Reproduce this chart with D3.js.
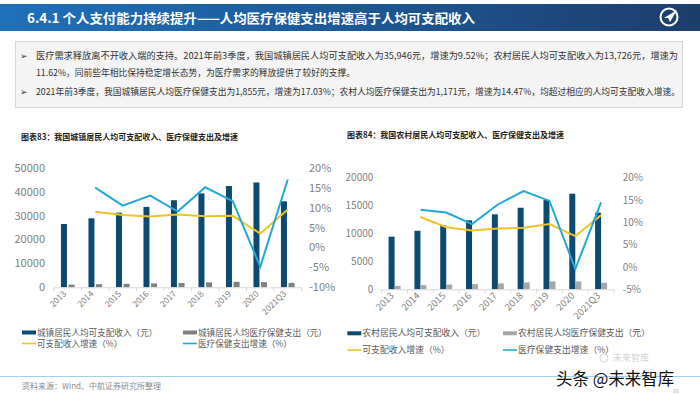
<!DOCTYPE html>
<html><head><meta charset="utf-8">
<script src="https://cdn.jsdelivr.net/npm/d3@7"></script>
<style>
html,body{margin:0;padding:0;background:#fff;}
svg{display:block;font-family:"Noto Sans CJK SC","Noto Sans",sans-serif;}
</style></head>
<body><svg id="c" width="700" height="394"></svg>
<script>
const categories = ["2013","2014","2015","2016","2017","2018","2019","2020","2021Q3"];
const urbanIncome = [26467,28844,31195,33616,36396,39251,42359,43834,35946];
const urbanMedical = [1136,1306,1443,1631,1777,2046,2283,2172,1855];
const urbanIncomeGrowth = [null,8.98,8.15,7.76,8.27,7.84,7.92,3.48,9.52];
const urbanMedicalGrowth = [null,15.0,10.5,13.0,9.0,15.1,11.6,-4.85,17.03];
const urbanLeftTicks = [0,10000,20000,30000,40000,50000];
const urbanRightTicks = [-10,-5,0,5,10,15,20];

const ruralIncome = [9430,10489,11422,12363,13432,14617,16021,17131,13726];
const ruralMedical = [614,754,846,929,1059,1240,1421,1418,1171];
const ruralIncomeGrowth = [null,11.2,8.9,8.2,8.6,8.8,9.6,6.9,11.62];
const ruralMedicalGrowth = [null,12.8,12.2,9.6,14.0,17.0,14.8,-0.45,14.47];
const ruralLeftTicks = [0,5000,10000,15000,20000];
const ruralRightTicks = [-5,0,5,10,15,20];

const urbanLegend = ["城镇居民人均可支配收入（元）","城镇居民人均医疗保健支出（元）","可支配收入增速（%）","医疗保健支出增速（%）"];
const ruralLegend = ["农村居民人均可支配收入（元）","农村居民人均医疗保健支出（元）","可支配收入增速（%）","医疗保健支出增速（%）"];

const svg = d3.select("#c");

// header
const defs = svg.append("defs");
const g1 = defs.append("linearGradient").attr("id","hg").attr("x1","0").attr("x2","1");
g1.append("stop").attr("offset","0%").attr("stop-color","#1f70ba");
g1.append("stop").attr("offset","45%").attr("stop-color","#1d5b9a");
g1.append("stop").attr("offset","100%").attr("stop-color","#1d3d6b");
svg.append("rect").attr("x",0).attr("y",4).attr("width",700).attr("height",27).attr("fill","url(#hg)");
svg.append("text").attr("x",27).attr("y",22.5).attr("fill","#fff").attr("font-size",13).attr("font-weight","bold")
  .attr("textLength",448).attr("lengthAdjust","spacingAndGlyphs")
  .text("6.4.1 个人支付能力持续提升——人均医疗保健支出增速高于人均可支配收入");
// logo
const lg = svg.append("g").attr("transform","translate(669,17)");
lg.append("circle").attr("r",8.5).attr("fill","none").attr("stroke","#fff").attr("stroke-width",2);
lg.append("path").attr("d","M-5,1 L8,-7 L1,5 L-1,1 Z").attr("fill","#fff");

// text box
svg.append("rect").attr("x",15.5).attr("y",41.5).attr("width",667).attr("height",66).attr("fill","#f4f4f4").attr("stroke","#d9d9d9");
const para = [
  {t:"医疗需求释放离不开收入端的支持。2021年前3季度，我国城镇居民人均可支配收入为35,946元，增速为9.52%；农村居民人均可支配收入为13,726元，增速为", y:59, b:true, w:642},
  {t:"11.62%，同前些年相比保持稳定增长态势，为医疗需求的释放提供了较好的支撑。", y:76, b:false, w:319},
  {t:"2021年前3季度，我国城镇居民人均医疗保健支出为1,855元，增速为17.03%；农村人均医疗保健支出为1,171元，增速为14.47%，均超过相应的人均可支配收入增速。", y:95, b:true, w:644}
];
para.forEach(p=>{
  if(p.b) svg.append("text").attr("x",20).attr("y",p.y).attr("font-size",9).attr("fill","#333").attr("font-family","DejaVu Sans").text("➢");
  svg.append("text").attr("x",36).attr("y",p.y).attr("font-size",9).attr("fill","#333")
    .attr("textLength",p.w).attr("lengthAdjust","spacingAndGlyphs").text(p.t);
});

function drawChart(o){
  const g = svg.append("g");
  g.append("text").attr("x",o.titleX).attr("y",o.titleY).attr("font-size",8.2).attr("font-weight","bold").attr("fill","#222")
    .attr("textLength",217).attr("lengthAdjust","spacingAndGlyphs").text(o.title);
  const x = d3.scaleBand().domain(categories).range([o.x0,o.x1]).padding(0);
  const yL = d3.scaleLinear().domain([o.leftTicks[0],o.leftTicks[o.leftTicks.length-1]]).range([o.yBot,o.yTop]);
  const yR = d3.scaleLinear().domain([o.rightTicks[0],o.rightTicks[o.rightTicks.length-1]]).range([o.yBot,o.yTop]);
  const bw = o.barW, gap = o.gap;
  // left axis
  const la = d3.axisLeft(yL).tickValues(o.leftTicks).tickSize(0).tickPadding(0).tickFormat(d=>String(d));
  const lag = g.append("g").attr("transform",`translate(${o.leftLabelX},0)`).call(la);
  lag.select(".domain").remove();
  lag.selectAll("text").attr("font-size",o.tickFont).attr("fill","#7f7f7f").attr("font-family","Noto Sans CJK SC");
  const ra = d3.axisRight(yR).tickValues(o.rightTicks).tickSize(0).tickPadding(0).tickFormat(d=>d+"%");
  const rag = g.append("g").attr("transform",`translate(${o.rightLabelX},0)`).call(ra);
  rag.select(".domain").remove();
  rag.selectAll("text").attr("font-size",o.tickFont).attr("fill","#7f7f7f").attr("font-family","Noto Sans CJK SC");
  // bars
  g.selectAll(".bi").data(o.income).join("rect")
    .attr("x",(d,i)=>x(categories[i])+x.bandwidth()/2-bw-gap/2).attr("width",bw)
    .attr("y",d=>yL(d)).attr("height",d=>yL(0)-yL(d)).attr("fill","#0d4a70");
  g.selectAll(".bm").data(o.medical).join("rect")
    .attr("x",(d,i)=>x(categories[i])+x.bandwidth()/2+gap/2).attr("width",bw)
    .attr("y",d=>yL(d)).attr("height",d=>yL(0)-yL(d)).attr("fill",o.grayColor);
  // x axis
  const xa = d3.axisBottom(x).tickSize(0).tickPadding(0);
  const xag = g.append("g").attr("transform",`translate(0,${yL(0)})`).call(xa);
  xag.select(".domain").attr("stroke","#d9d9d9");
  xag.selectAll(".tick text").attr("font-size",o.xFont).attr("fill","#7f7f7f").attr("font-family","Noto Sans CJK SC")
    .attr("text-anchor","end").attr("dy",0).attr("y",0)
    .attr("transform",`translate(${o.xLabDx},${o.xLabDy}) rotate(-45)`);
  const bounds = categories.map(c=>x(c)).concat([o.x1]);
  g.selectAll(".tk").data(bounds).join("line")
    .attr("x1",d=>d).attr("x2",d=>d).attr("y1",yL(0)).attr("y2",yL(0)+4).attr("stroke","#d9d9d9");
  // lines
  const line = d3.line().defined(d=>d[1]!=null).x(d=>x(d[0])+x.bandwidth()/2).y(d=>yR(d[1]));
  g.append("path").datum(categories.map((c,i)=>[c,o.incGrowth[i]])).attr("d",line)
    .attr("fill","none").attr("stroke","#eec22a").attr("stroke-width",2);
  g.append("path").datum(categories.map((c,i)=>[c,o.medGrowth[i]])).attr("d",line)
    .attr("fill","none").attr("stroke","#22a7da").attr("stroke-width",2);
  // legend
  const L = o.legend;
  const items = [
    {t:L[0], type:"bar", c:"#0d4a70", x:o.lgX1, y:o.lgY1},
    {t:L[1], type:"bar", c:o.grayColor, x:o.lgX2, y:o.lgY1},
    {t:L[2], type:"line", c:"#eec22a", x:o.lgX1, y:o.lgY2},
    {t:L[3], type:"line", c:"#22a7da", x:o.lgX2, y:o.lgY2}
  ];
  items.forEach(it=>{
    if(it.type==="bar") g.append("rect").attr("x",it.x).attr("y",it.y-2).attr("width",14).attr("height",4).attr("fill",it.c);
    else g.append("line").attr("x1",it.x).attr("x2",it.x+14).attr("y1",it.y).attr("y2",it.y).attr("stroke",it.c).attr("stroke-width",1.6);
    g.append("text").attr("x",it.x+15).attr("y",it.y).attr("dy","0.35em").attr("font-size",o.lgFont).attr("fill","#595959").text(it.t);
  });
}

drawChart({
  title:"图表83：我国城镇居民人均可支配收入、医疗保健支出及增速", titleX:21, titleY:140,
  x0:54, x1:301.5, yTop:167.7, yBot:287.3, leftLabelX:45, rightLabelX:309,
  leftTicks:urbanLeftTicks, rightTicks:urbanRightTicks,
  income:urbanIncome, medical:urbanMedical, incGrowth:urbanIncomeGrowth, medGrowth:urbanMedicalGrowth,
  barW:6, gap:1.6, grayColor:"#808080", tickFont:11, xFont:8.5, xLabDx:-1, xLabDy:7,
  legend:urbanLegend, lgX1:22, lgX2:183, lgY1:332.5, lgY2:343.5, lgFont:8.6
});
drawChart({
  title:"图表84：我国农村居民人均可支配收入、医疗保健支出及增速", titleX:347, titleY:138,
  x0:381.7, x1:614, yTop:177.7, yBot:289.3, leftLabelX:373.3, rightLabelX:622.7,
  leftTicks:ruralLeftTicks, rightTicks:ruralRightTicks,
  income:ruralIncome, medical:ruralMedical, incGrowth:ruralIncomeGrowth, medGrowth:ruralMedicalGrowth,
  barW:6, gap:0, grayColor:"#a6a6a6", tickFont:10, xFont:9.5, xLabDx:0, xLabDy:7,
  legend:ruralLegend, lgX1:347.3, lgX2:503, lgY1:333.3, lgY2:350, lgFont:8.8
});

// footer
svg.append("line").attr("x1",0).attr("x2",700).attr("y1",376.5).attr("y2",376.5).attr("stroke","#a8cde6").attr("stroke-width",1);
svg.append("text").attr("x",22).attr("y",389).attr("font-size",8).attr("fill","#8c8c8c").text("资料来源：Wind、中航证券研究所整理");
svg.append("text").attr("x",673).attr("y",393).attr("font-size",5.5).attr("fill","#b0b0b0").text("66");
svg.append("text").attr("x",613).attr("y",361).attr("font-size",9).attr("fill","#d4d4d4").text("未来智库");
svg.append("circle").attr("cx",604).attr("cy",358).attr("r",4).attr("fill","none").attr("stroke","#d4d4d4");
svg.append("text").attr("x",556).attr("y",385).attr("font-size",16.5).attr("fill","#111").text("头条 @未来智库");
</script></body></html>
